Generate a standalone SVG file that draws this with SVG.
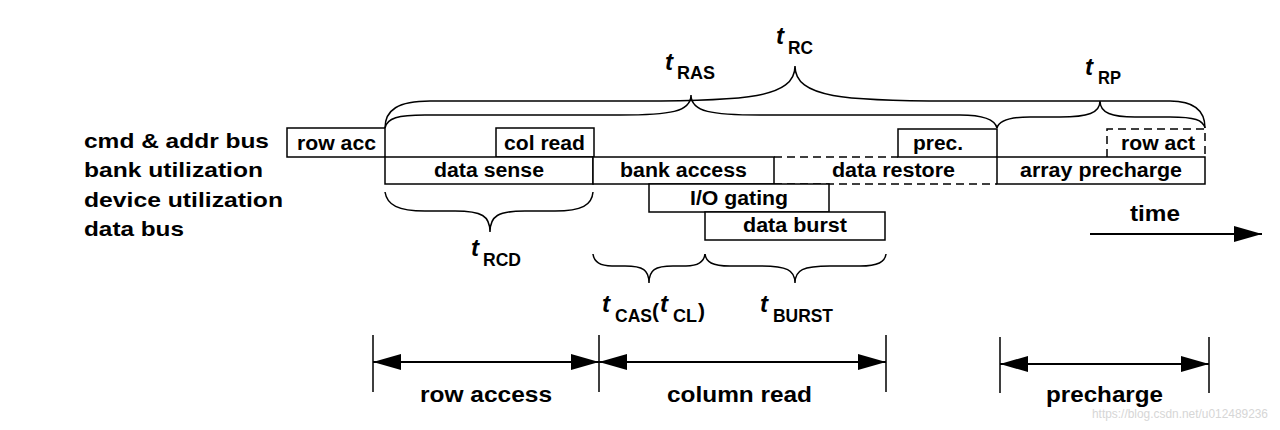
<svg xmlns="http://www.w3.org/2000/svg" width="1280" height="430" viewBox="0 0 1280 430">
<style>
text{font-family:"Liberation Sans",Arial,sans-serif;font-weight:bold;fill:#000}
.lbl{font-size:21px}
.bx{font-size:20px}
.big{font-size:22px}
.t{font-size:24px;font-style:italic}
.sub{font-size:18px}
.par{font-size:21px}
.box{fill:#fff;stroke:#000;stroke-width:1.5}
.ln{fill:none;stroke:#000;stroke-width:1.5}
.dash{fill:none;stroke:#000;stroke-width:1.5;stroke-dasharray:8,5}
.brace{fill:none;stroke:#000;stroke-width:1.5}
.dim{fill:none;stroke:#000;stroke-width:2}
.wm{font-size:12px;font-weight:normal;fill:#d6d6d6}
</style>
<defs>
<marker id="ah" markerUnits="userSpaceOnUse" markerWidth="28" markerHeight="16" viewBox="0 0 28 16" refX="28" refY="8" orient="auto-start-reverse">
<path d="M0,0 L28,8 L0,16 z" fill="#000"/>
</marker>
</defs>
<rect width="1280" height="430" fill="#fff"/>

<g id="row-labels">
<text class="lbl" x="84" y="148" textLength="185" lengthAdjust="spacingAndGlyphs">cmd &amp; addr bus</text>
<text class="lbl" x="84" y="177" textLength="179" lengthAdjust="spacingAndGlyphs">bank utilization</text>
<text class="lbl" x="84" y="207" textLength="199" lengthAdjust="spacingAndGlyphs">device utilization</text>
<text class="lbl" x="84" y="236" textLength="100" lengthAdjust="spacingAndGlyphs">data bus</text>
</g>

<g id="row-acc">
<rect class="box" x="287" y="128" width="98" height="29"/>
<text class="bx" x="297" y="150" textLength="79" lengthAdjust="spacingAndGlyphs">row acc</text>
</g>
<g id="col-read">
<rect class="box" x="496" y="128" width="98" height="29"/>
<text class="bx" x="504" y="150" textLength="81" lengthAdjust="spacingAndGlyphs">col read</text>
</g>
<g id="prec">
<rect class="box" x="898" y="129" width="99" height="28"/>
<text class="bx" x="913" y="150" textLength="50" lengthAdjust="spacingAndGlyphs">prec.</text>
</g>
<g id="row-act">
<path class="dash" d="M1107,157 L1107,129 L1205,129 L1205,157"/>
<text class="bx" x="1121" y="150" textLength="74" lengthAdjust="spacingAndGlyphs">row act</text>
</g>
<g id="data-sense">
<rect class="box" x="385" y="157" width="208" height="27"/>
<text class="bx" x="434" y="177" textLength="110" lengthAdjust="spacingAndGlyphs">data sense</text>
</g>
<g id="bank-access">
<rect class="box" x="593" y="157" width="181" height="27"/>
<text class="bx" x="620" y="177" textLength="127" lengthAdjust="spacingAndGlyphs">bank access</text>
</g>
<g id="data-restore">
<path class="dash" d="M774,157 L898,157 M774,184 L997,184"/>
<text class="bx" x="832" y="177" textLength="123" lengthAdjust="spacingAndGlyphs">data restore</text>
</g>
<g id="array-precharge">
<rect class="box" x="997" y="157" width="208" height="27"/>
<text class="bx" x="1020" y="177" textLength="162" lengthAdjust="spacingAndGlyphs">array precharge</text>
</g>
<g id="io-gating">
<rect class="box" x="649" y="184" width="180" height="28"/>
<text class="bx" x="690" y="205" textLength="98" lengthAdjust="spacingAndGlyphs">I/O gating</text>
</g>
<g id="data-burst">
<rect class="box" x="705" y="212" width="180" height="28"/>
<text class="bx" x="743" y="232" textLength="104" lengthAdjust="spacingAndGlyphs">data burst</text>
</g>

<g id="timing-labels">
<text class="t" x="665" y="70">t</text><text class="sub" x="677" y="79" textLength="38" lengthAdjust="spacingAndGlyphs">RAS</text>
<text class="t" x="776" y="44">t</text><text class="sub" x="788" y="54" textLength="25" lengthAdjust="spacingAndGlyphs">RC</text>
<text class="t" x="1085" y="75">t</text><text class="sub" x="1098" y="84" textLength="23" lengthAdjust="spacingAndGlyphs">RP</text>
<text class="t" x="471" y="256">t</text><text class="sub" x="483" y="266" textLength="38" lengthAdjust="spacingAndGlyphs">RCD</text>
<text class="t" x="602" y="312">t</text><text class="sub" x="615" y="322" textLength="37" lengthAdjust="spacingAndGlyphs">CAS</text>
<text class="par" x="652" y="318">(</text>
<text class="t" x="660" y="312">t</text><text class="sub" x="673" y="322" textLength="24" lengthAdjust="spacingAndGlyphs">CL</text>
<text class="par" x="698" y="318">)</text>
<text class="t" x="760" y="312">t</text><text class="sub" x="773" y="322" textLength="60" lengthAdjust="spacingAndGlyphs">BURST</text>
</g>

<g id="phase-labels">
<text class="big" x="1130" y="221" textLength="50" lengthAdjust="spacingAndGlyphs">time</text>
<text class="big" x="420" y="402" textLength="132" lengthAdjust="spacingAndGlyphs">row access</text>
<text class="big" x="667" y="402" textLength="145" lengthAdjust="spacingAndGlyphs">column read</text>
<text class="big" x="1046" y="402" textLength="117" lengthAdjust="spacingAndGlyphs">precharge</text>
</g>

<g id="connectors">
<path class="brace" d="M385,128 C385,110 398,101 430,101 L640,101 C745,101 795,98 795,66 C795,98 845,101 950,101 L1170,101 C1195,101 1205,112 1205,128"/>
<path class="brace" d="M385,128 C387,118 398,115 425,115 L620,115 C670,115 691,112 691,95 C691,112 712,115 760,115 L960,115 C985,115 995,120 997,128"/>
<path class="brace" d="M997,128 C999,120 1010,117 1030,117 L1060,117 C1088,117 1100,113 1100,101 C1100,113 1112,117 1135,117 L1170,117 C1195,117 1203,120 1205,128"/>
<path class="brace" d="M385,192 C387,205 398,211 425,211 L455,211 C482,211 490,216 490,232 C490,216 498,211 525,211 L555,211 C582,211 592,205 593,192"/>
<path class="brace" d="M593,254 C594,262 600,266 612,266 L625,266 C643,266 649,270 649,283 C649,270 655,266 673,266 L686,266 C698,266 704,262 705,254"/>
<path class="brace" d="M705,254 C706,262 712,266 730,266 L760,266 C787,266 795,270 795,283 C795,270 803,266 830,266 L860,266 C878,266 885,262 886,254"/>
<path class="ln" d="M373,335 L373,392 M599,335 L599,392 M886,335 L886,392 M1000,337 L1000,393 M1209,337 L1209,393"/>
<line class="dim" x1="373" y1="362" x2="599" y2="362" marker-start="url(#ah)" marker-end="url(#ah)"/>
<line class="dim" x1="599" y1="362" x2="886" y2="362" marker-start="url(#ah)" marker-end="url(#ah)"/>
<line class="dim" x1="1000" y1="364" x2="1209" y2="364" marker-start="url(#ah)" marker-end="url(#ah)"/>
<line class="dim" x1="1090" y1="234" x2="1262" y2="234" marker-end="url(#ah)"/>
</g>

<text class="wm" x="1092" y="418" textLength="176" lengthAdjust="spacingAndGlyphs">https://blog.csdn.net/u012489236</text>
</svg>
